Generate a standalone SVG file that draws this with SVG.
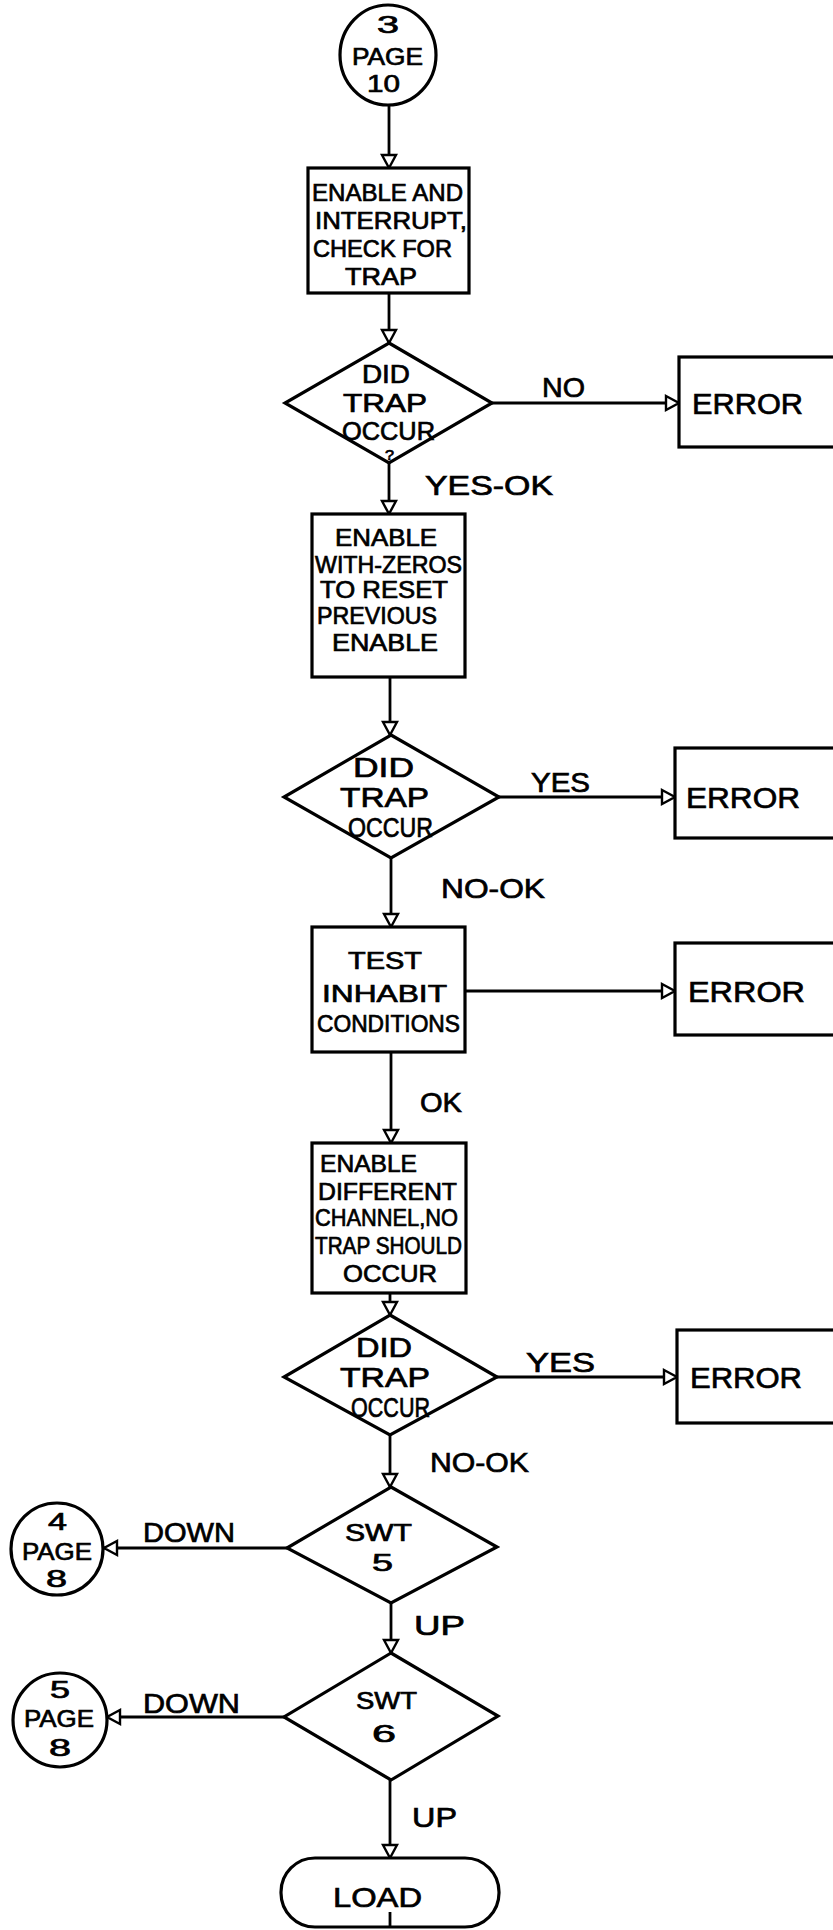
<svg xmlns="http://www.w3.org/2000/svg" width="833" height="1930" viewBox="0 0 833 1930">
<style>
.shape{fill:#fff;stroke:#000;stroke-width:3.2}
.ln{fill:none;stroke:#000;stroke-width:2.8}
text{font-family:"Liberation Sans",Arial,sans-serif;fill:#000;stroke:#000;stroke-width:0.7}
.bt{font-size:24px}
.dt{font-size:27px}
.d1{font-size:25px}
.lb{font-size:28px}
.er{font-size:30px}
.q{font-size:15px}
</style>
<defs>
<marker id="arr" markerUnits="userSpaceOnUse" markerWidth="18" markerHeight="18" viewBox="0 0 18 18" refX="15" refY="9" orient="auto">
<path d="M2,2 L15,9 L2,16 Z" fill="#fff" stroke="#000" stroke-width="2.4"/>
</marker>
</defs>
<rect width="833" height="1930" fill="#fff"/>

<g id="connectors">
<line class="ln" x1="389" y1="105" x2="389" y2="168" marker-end="url(#arr)"/>
<line class="ln" x1="389" y1="293" x2="389" y2="343" marker-end="url(#arr)"/>
<line class="ln" x1="492" y1="403" x2="679" y2="403" marker-end="url(#arr)"/>
<line class="ln" x1="389" y1="463" x2="389" y2="514" marker-end="url(#arr)"/>
<line class="ln" x1="390" y1="677" x2="390" y2="735" marker-end="url(#arr)"/>
<line class="ln" x1="499" y1="797" x2="675" y2="797" marker-end="url(#arr)"/>
<line class="ln" x1="391" y1="858" x2="391" y2="927" marker-end="url(#arr)"/>
<line class="ln" x1="465" y1="991" x2="675" y2="991" marker-end="url(#arr)"/>
<line class="ln" x1="391" y1="1052" x2="391" y2="1143" marker-end="url(#arr)"/>
<line class="ln" x1="390" y1="1293" x2="390" y2="1315" marker-end="url(#arr)"/>
<line class="ln" x1="497" y1="1377" x2="677" y2="1377" marker-end="url(#arr)"/>
<line class="ln" x1="390" y1="1435" x2="390" y2="1487" marker-end="url(#arr)"/>
<line class="ln" x1="287" y1="1548" x2="104" y2="1548" marker-end="url(#arr)"/>
<line class="ln" x1="391" y1="1603" x2="391" y2="1653" marker-end="url(#arr)"/>
<line class="ln" x1="284" y1="1717" x2="107" y2="1717" marker-end="url(#arr)"/>
<line class="ln" x1="390" y1="1780" x2="390" y2="1858" marker-end="url(#arr)"/>
</g>

<g id="labels">
<text class="lb" x="542" y="397" textLength="43" lengthAdjust="spacingAndGlyphs">NO</text>
<text class="lb" x="425" y="495" textLength="128" lengthAdjust="spacingAndGlyphs">YES-OK</text>
<text class="lb" x="531" y="792" textLength="59" lengthAdjust="spacingAndGlyphs">YES</text>
<text class="lb" x="441" y="898" textLength="104" lengthAdjust="spacingAndGlyphs">NO-OK</text>
<text class="lb" x="420" y="1112" textLength="42" lengthAdjust="spacingAndGlyphs">OK</text>
<text class="lb" x="526" y="1372" textLength="69" lengthAdjust="spacingAndGlyphs">YES</text>
<text class="lb" x="430" y="1472" textLength="99" lengthAdjust="spacingAndGlyphs">NO-OK</text>
<text class="lb" x="143" y="1542" textLength="92" lengthAdjust="spacingAndGlyphs">DOWN</text>
<text class="lb" x="414" y="1635" textLength="51" lengthAdjust="spacingAndGlyphs">UP</text>
<text class="lb" x="143" y="1713" textLength="97" lengthAdjust="spacingAndGlyphs">DOWN</text>
<text class="lb" x="412" y="1827" textLength="45" lengthAdjust="spacingAndGlyphs">UP</text>
</g>

<g id="start">
<ellipse class="shape" cx="388" cy="55" rx="48" ry="50"/>
<text class="bt" x="377" y="33" textLength="22" lengthAdjust="spacingAndGlyphs">3</text>
<text class="bt" x="352" y="65" textLength="71" lengthAdjust="spacingAndGlyphs">PAGE</text>
<text class="bt" x="367" y="92" textLength="33" lengthAdjust="spacingAndGlyphs">10</text>
</g>

<g id="box1">
<rect class="shape" x="308" y="168" width="161" height="125"/>
<text class="bt" x="312" y="201" textLength="151" lengthAdjust="spacingAndGlyphs">ENABLE AND</text>
<text class="bt" x="315" y="229" textLength="152" lengthAdjust="spacingAndGlyphs">INTERRUPT,</text>
<text class="bt" x="313" y="257" textLength="139" lengthAdjust="spacingAndGlyphs">CHECK FOR</text>
<text class="bt" x="345" y="285" textLength="72" lengthAdjust="spacingAndGlyphs">TRAP</text>
</g>

<g id="decision1">
<polygon class="shape" points="389,343 492,403 389,463 285,403"/>
<text class="d1" x="362" y="383" textLength="48" lengthAdjust="spacingAndGlyphs">DID</text>
<text class="d1" x="343" y="412" textLength="84" lengthAdjust="spacingAndGlyphs">TRAP</text>
<text class="d1" x="342" y="440" textLength="93" lengthAdjust="spacingAndGlyphs">OCCUR</text>
<text class="q" x="385" y="460" textLength="9" lengthAdjust="spacingAndGlyphs">?</text>
</g>

<g id="error1">
<rect class="shape" x="679" y="357" width="170" height="90"/>
<text class="er" x="692" y="414" textLength="111" lengthAdjust="spacingAndGlyphs">ERROR</text>
</g>

<g id="box2">
<rect class="shape" x="312" y="514" width="153" height="163"/>
<text class="bt" x="335" y="546" textLength="102" lengthAdjust="spacingAndGlyphs">ENABLE</text>
<text class="bt" x="315" y="573" textLength="147" lengthAdjust="spacingAndGlyphs">WITH-ZEROS</text>
<text class="bt" x="320" y="598" textLength="128" lengthAdjust="spacingAndGlyphs">TO RESET</text>
<text class="bt" x="317" y="624" textLength="120" lengthAdjust="spacingAndGlyphs">PREVIOUS</text>
<text class="bt" x="332" y="651" textLength="106" lengthAdjust="spacingAndGlyphs">ENABLE</text>
</g>

<g id="decision2">
<polygon class="shape" points="391,735 499,797 391,858 284,797"/>
<text class="dt" x="353" y="777" textLength="61" lengthAdjust="spacingAndGlyphs">DID</text>
<text class="dt" x="340" y="807" textLength="89" lengthAdjust="spacingAndGlyphs">TRAP</text>
<text class="dt" x="348" y="837" textLength="85" lengthAdjust="spacingAndGlyphs">OCCUR</text>
</g>

<g id="error2">
<rect class="shape" x="675" y="748" width="175" height="90"/>
<text class="er" x="686" y="808" textLength="114" lengthAdjust="spacingAndGlyphs">ERROR</text>
</g>

<g id="box3">
<rect class="shape" x="312" y="927" width="153" height="125"/>
<text class="bt" x="348" y="969" textLength="74" lengthAdjust="spacingAndGlyphs">TEST</text>
<text class="bt" x="322" y="1002" textLength="125" lengthAdjust="spacingAndGlyphs">INHABIT</text>
<text class="bt" x="317" y="1032" textLength="143" lengthAdjust="spacingAndGlyphs">CONDITIONS</text>
</g>

<g id="error3">
<rect class="shape" x="675" y="943" width="175" height="92"/>
<text class="er" x="688" y="1002" textLength="117" lengthAdjust="spacingAndGlyphs">ERROR</text>
</g>

<g id="box4">
<rect class="shape" x="312" y="1143" width="154" height="150"/>
<text class="bt" x="320" y="1172" textLength="97" lengthAdjust="spacingAndGlyphs">ENABLE</text>
<text class="bt" x="318" y="1200" textLength="139" lengthAdjust="spacingAndGlyphs">DIFFERENT</text>
<text class="bt" x="315" y="1226" textLength="143" lengthAdjust="spacingAndGlyphs">CHANNEL,NO</text>
<text class="bt" x="315" y="1254" textLength="147" lengthAdjust="spacingAndGlyphs">TRAP SHOULD</text>
<text class="bt" x="343" y="1282" textLength="94" lengthAdjust="spacingAndGlyphs">OCCUR</text>
</g>

<g id="decision3">
<polygon class="shape" points="390,1315 497,1377 390,1435 284,1377"/>
<text class="dt" x="356" y="1357" textLength="56" lengthAdjust="spacingAndGlyphs">DID</text>
<text class="dt" x="340" y="1387" textLength="90" lengthAdjust="spacingAndGlyphs">TRAP</text>
<text class="dt" x="351" y="1417" textLength="79" lengthAdjust="spacingAndGlyphs">OCCUR</text>
</g>

<g id="error4">
<rect class="shape" x="677" y="1330" width="175" height="93"/>
<text class="er" x="690" y="1388" textLength="112" lengthAdjust="spacingAndGlyphs">ERROR</text>
</g>

<g id="swt5">
<polygon class="shape" points="391,1487 497,1547 391,1603 287,1548"/>
<text class="bt" x="345" y="1541" textLength="67" lengthAdjust="spacingAndGlyphs">SWT</text>
<text class="bt" x="372" y="1571" textLength="21" lengthAdjust="spacingAndGlyphs">5</text>
</g>

<g id="page8a">
<circle class="shape" cx="57" cy="1549" r="46"/>
<text class="bt" x="48" y="1530" textLength="19" lengthAdjust="spacingAndGlyphs">4</text>
<text class="bt" x="22" y="1560" textLength="70" lengthAdjust="spacingAndGlyphs">PAGE</text>
<text class="bt" x="46" y="1587" textLength="21" lengthAdjust="spacingAndGlyphs">8</text>
</g>

<g id="swt6">
<polygon class="shape" points="391,1653 498,1716 391,1780 284,1717"/>
<text class="bt" x="356" y="1709" textLength="61" lengthAdjust="spacingAndGlyphs">SWT</text>
<text class="bt" x="372" y="1742" textLength="24" lengthAdjust="spacingAndGlyphs">6</text>
</g>

<g id="page8b">
<circle class="shape" cx="60" cy="1720" r="47"/>
<text class="bt" x="50" y="1698" textLength="20" lengthAdjust="spacingAndGlyphs">5</text>
<text class="bt" x="24" y="1727" textLength="70" lengthAdjust="spacingAndGlyphs">PAGE</text>
<text class="bt" x="49" y="1756" textLength="22" lengthAdjust="spacingAndGlyphs">8</text>
</g>

<g id="load">
<rect class="shape" x="281" y="1858" width="218" height="69" rx="34" ry="34"/>
<line class="ln" x1="390" y1="1912" x2="390" y2="1927"/>
<text class="lb" x="333" y="1907" textLength="89" lengthAdjust="spacingAndGlyphs">LOAD</text>
</g>
</svg>
